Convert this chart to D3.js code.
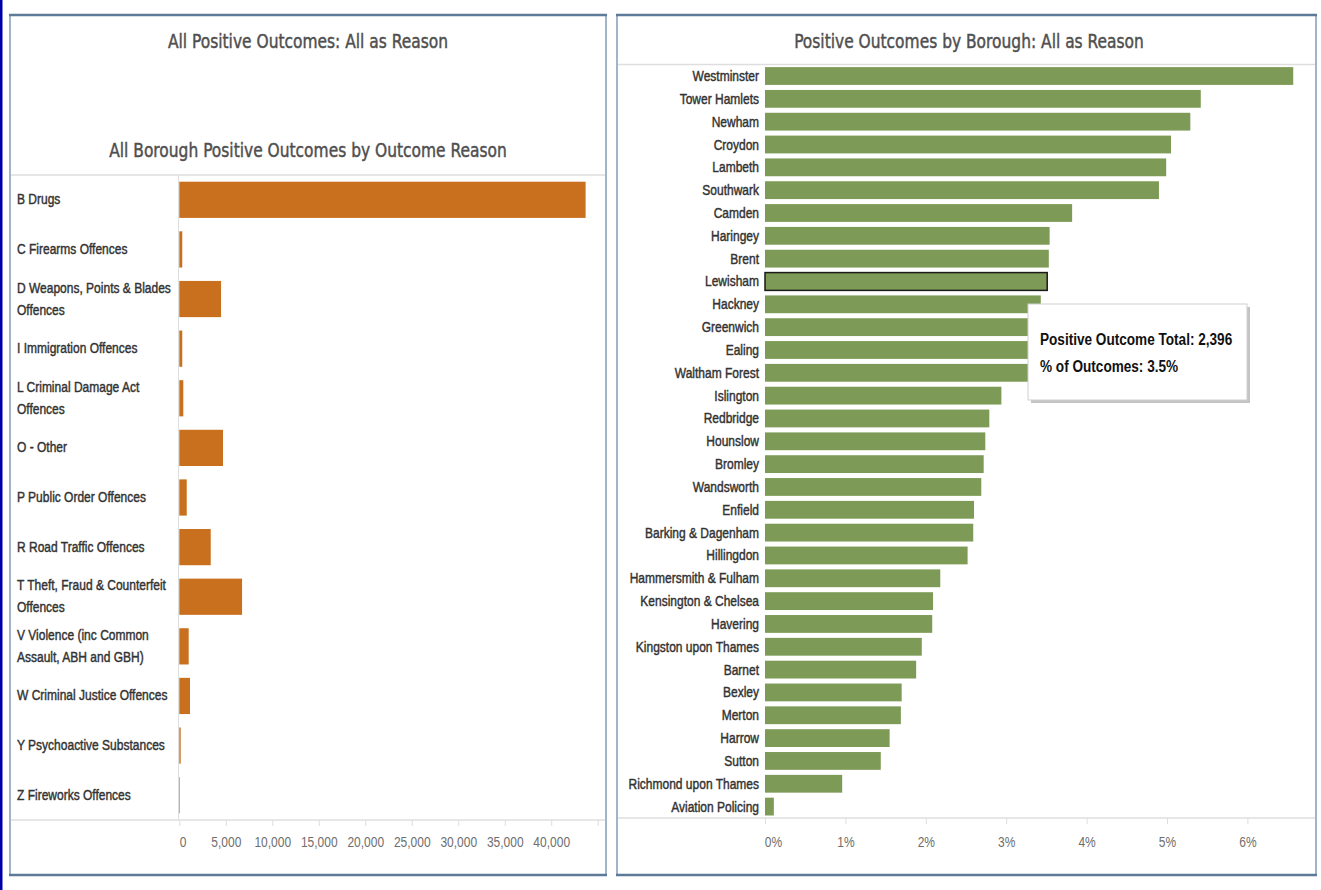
<!DOCTYPE html>
<html><head><meta charset="utf-8">
<script src="https://cdn.jsdelivr.net/npm/d3@7"></script>
<style>
body{margin:0;background:#fff;}
svg{display:block;}
text{font-family:"Liberation Sans",Arial,sans-serif;}
.title{font-family:"DejaVu Sans Condensed","DejaVu Sans",sans-serif;}
</style></head><body>
<svg id="c" width="1321" height="890"></svg>
<script>
// ---------- DATA ----------
const reasonCategories = [
  "B Drugs","C Firearms Offences","D Weapons, Points & Blades\nOffences","I Immigration Offences",
  "L Criminal Damage Act\nOffences","O - Other","P Public Order Offences","R Road Traffic Offences",
  "T Theft, Fraud & Counterfeit\nOffences","V Violence (inc Common\nAssault, ABH and GBH)",
  "W Criminal Justice Offences","Y Psychoactive Substances","Z Fireworks Offences"
];
const reasonValues = [43700, 320, 4490, 320, 430, 4700, 800, 3380, 6750, 1010, 1150, 150, 30];
const reasonTicks = [0,5000,10000,15000,20000,25000,30000,35000,40000,45000];

const boroughs = [
  "Westminster","Tower Hamlets","Newham","Croydon","Lambeth","Southwark","Camden","Haringey","Brent",
  "Lewisham","Hackney","Greenwich","Ealing","Waltham Forest","Islington","Redbridge","Hounslow",
  "Bromley","Wandsworth","Enfield","Barking & Dagenham","Hillingdon","Hammersmith & Fulham",
  "Kensington & Chelsea","Havering","Kingston upon Thames","Barnet","Bexley","Merton","Harrow",
  "Sutton","Richmond upon Thames","Aviation Policing"
];
const boroughPct = [6.57,5.42,5.29,5.05,4.99,4.90,3.82,3.54,3.53,3.51,3.43,3.38,3.35,3.30,2.94,2.79,
  2.74,2.72,2.69,2.60,2.59,2.52,2.18,2.09,2.08,1.95,1.88,1.70,1.69,1.55,1.44,0.96,0.11];
const pctTicks = [0,1,2,3,4,5,6];
const highlighted = "Lewisham";
const tooltipLines = ["Positive Outcome Total: 2,396","% of Outcomes: 3.5%"];

// ---------- DRAW ----------
const svg = d3.select("#c");
const labelCol = "#333", axisCol = "#6e6e6e", gridCol = "#dedede";
const NARROW = 0.8, TITLESX = 0.86;

function ntext(parent, x, y, str, sx){
  const g = parent.append("g").attr("transform",`translate(${x},${y}) scale(${sx},1)`);
  return g.append("text").attr("x",0).attr("y",0).text(str);
}

svg.append("rect").attr("x",0).attr("y",0).attr("width",2.5).attr("height",890).attr("fill","#0000a8");

function panel(x0,x1,y0,y1){
  const g = svg.append("g");
  g.append("line").attr("x1",x0).attr("x2",x0).attr("y1",y0).attr("y2",y1).attr("stroke","#a2b4c7").attr("stroke-width",2);
  g.append("line").attr("x1",x1).attr("x2",x1).attr("y1",y0).attr("y2",y1).attr("stroke","#a2b4c7").attr("stroke-width",2);
  g.append("line").attr("x1",x0-1).attr("x2",x1+1).attr("y1",y0).attr("y2",y0).attr("stroke","#5d7a98").attr("stroke-width",2.5);
  g.append("line").attr("x1",x0-1).attr("x2",x1+1).attr("y1",y1).attr("y2",y1).attr("stroke","#5d7a98").attr("stroke-width",2.5);
}
function title(x,y,str){
  ntext(svg,x,y,str,TITLESX).attr("class","title").attr("text-anchor","middle").attr("font-size",20)
    .attr("fill","#4f4f4f").attr("stroke","#4f4f4f").attr("stroke-width",0.45);
}

// ===== LEFT PANEL =====
const L = {x0:10, x1:606, y0:15, y1:875, top:175, bottom:820, plotL:179.3, plotR:597.7, divX:178.5};
title(308,48,"All Positive Outcomes: All as Reason");
title(308,157,"All Borough Positive Outcomes by Outcome Reason");

const xL = d3.scaleLinear().domain([0,45000]).range([L.plotL, L.plotR]);
const yL = d3.scaleBand().domain(reasonCategories).range([L.top, L.bottom]).paddingInner(0.27).paddingOuter(0.135);

svg.append("line").attr("x1",L.x0+1).attr("x2",L.x1-1).attr("y1",L.top).attr("y2",L.top).attr("stroke",gridCol).attr("stroke-width",1.5);
svg.append("line").attr("x1",L.divX).attr("x2",L.divX).attr("y1",L.top).attr("y2",L.bottom).attr("stroke",gridCol).attr("stroke-width",1);

svg.append("g").selectAll("rect").data(reasonCategories).join("rect")
  .attr("x",xL(0)).attr("y",d=>yL(d))
  .attr("width",(d,i)=>Math.max(0.6,xL(reasonValues[i])-xL(0)))
  .attr("height",yL.bandwidth()).attr("fill","#c9701f");

const lblL = svg.append("g").attr("font-size",15).attr("fill",labelCol).attr("stroke",labelCol).attr("stroke-width",0.45);
reasonCategories.forEach(c=>{
  const lines = c.split("\n");
  const cy = yL(c)+yL.bandwidth()/2;
  const g = lblL.append("g").attr("transform",`translate(17,${cy}) scale(${NARROW},1)`);
  const t = g.append("text");
  lines.forEach((ln,k)=>{
    t.append("tspan").attr("x",0).attr("y",4.5 + (k-(lines.length-1)/2)*22).text(ln);
  });
});

const axL = svg.append("g").attr("transform",`translate(0,${L.bottom})`)
  .call(d3.axisBottom(xL).tickValues(reasonTicks).tickSize(6).tickPadding(10)
        .tickFormat(d=> d===45000 ? "" : d3.format(",")(d)));
axL.select(".domain").remove();
axL.selectAll(".tick line").attr("stroke",gridCol);
axL.selectAll(".tick text").attr("fill",axisCol).attr("font-size",15)
  .style("font-family",'"Liberation Sans",Arial,sans-serif').attr("transform",`scale(${NARROW},1)`);
axL.selectAll(".tick").filter(d=>d===0).select("text").attr("dx",4);
svg.append("line").attr("x1",L.x0+1).attr("x2",L.x1-1).attr("y1",L.bottom).attr("y2",L.bottom).attr("stroke",gridCol).attr("stroke-width",1.5);

panel(L.x0,L.x1,L.y0,L.y1);

// ===== RIGHT PANEL =====
const R = {x0:617, x1:1316, y0:15, y1:875, top:64.6, bottom:818, plotL:765, labelX:759};
title(969,48,"Positive Outcomes by Borough: All as Reason");

const xR = d3.scaleLinear().domain([0,6.85]).range([R.plotL, R.plotL+6.85*80.4]);
const yR = d3.scaleBand().domain(boroughs).range([R.top, R.bottom]).paddingInner(0.22).paddingOuter(0.11);

svg.append("line").attr("x1",R.x0+1).attr("x2",R.x1-1).attr("y1",R.top).attr("y2",R.top).attr("stroke",gridCol).attr("stroke-width",1.5);

svg.append("g").selectAll("rect").data(boroughs).join("rect")
  .attr("x",xR(0)).attr("y",d=>yR(d))
  .attr("width",(d,i)=>xR(boroughPct[i])-xR(0))
  .attr("height",yR.bandwidth()).attr("fill","#7d9b56")
  .attr("stroke",d=>d===highlighted?"#1a1a1a":"none").attr("stroke-width",1.5);

const lblR = svg.append("g").attr("font-size",15).attr("fill",labelCol).attr("stroke",labelCol).attr("stroke-width",0.45).attr("text-anchor","end");
boroughs.forEach(b=>{
  ntext(lblR, R.labelX, yR(b)+yR.bandwidth()/2+5, b, NARROW);
});

const axR = svg.append("g").attr("transform",`translate(0,${R.bottom})`)
  .call(d3.axisBottom(xR).tickValues(pctTicks).tickSize(6).tickPadding(12).tickFormat(d=>d+"%"));
axR.select(".domain").remove();
axR.selectAll(".tick line").attr("stroke",gridCol);
axR.selectAll(".tick text").attr("fill",axisCol).attr("font-size",15)
  .style("font-family",'"Liberation Sans",Arial,sans-serif').attr("transform",`scale(${NARROW},1)`);
axR.selectAll(".tick").filter(d=>d===0).select("text").attr("dx",10);
svg.append("line").attr("x1",R.x0+1).attr("x2",R.x1-1).attr("y1",R.bottom).attr("y2",R.bottom).attr("stroke",gridCol).attr("stroke-width",1.5);

// tooltip
const tip = svg.append("g").attr("transform","translate(1028,304)");
tip.append("rect").attr("x",3).attr("y",3).attr("width",219).attr("height",96).attr("fill","#c4c4c4");
tip.append("rect").attr("x",0).attr("y",0).attr("width",219).attr("height",96).attr("fill","#fff").attr("stroke","#cfcfcf");
tooltipLines.forEach((t,i)=>{
  ntext(tip, 12, 41+i*27, t, 0.8).attr("font-size",17).attr("font-weight","bold").attr("fill","#111");
});

panel(R.x0,R.x1,R.y0,R.y1);
</script>
</body></html>
